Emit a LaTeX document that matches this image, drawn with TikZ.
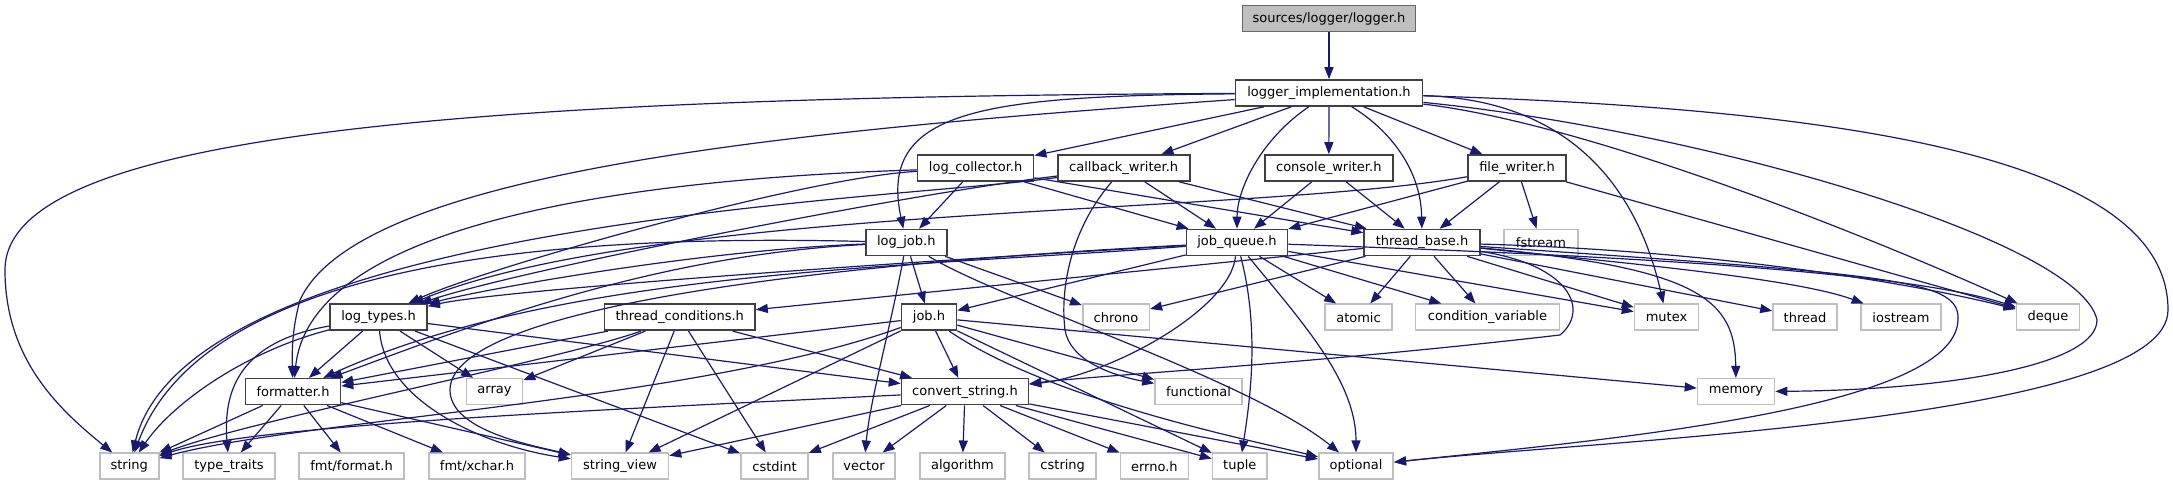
\documentclass[tikz,border=0pt]{standalone}
\usepackage{fontspec}
\setmainfont{DejaVu Sans}
\usetikzlibrary{arrows.meta}
\definecolor{dxblue}{HTML}{191970}
\definecolor{dxgray}{HTML}{BFBFBF}
\definecolor{dxdark}{HTML}{404040}
\definecolor{dxroot}{HTML}{666666}
\begin{document}
\begin{tikzpicture}[x=0.5pt,y=-0.5pt,
    every node/.style={font=\fontsize{6.5}{7.8}\selectfont, inner sep=0pt, minimum height=13pt},
    docbox/.style={draw=dxdark, fill=white, line width=0.8pt},
    extbox/.style={draw=dxgray, fill=white, line width=0.8pt},
    rootbox/.style={draw=dxroot, fill=dxgray, line width=0.8pt},
    dep/.style={draw=dxblue, line width=0.6pt, -{Triangle[length=6pt,width=4.5pt]}}]
    \useasboundingbox (0,0) rectangle (2173,485);

    % Cabeceras del proyecto
    \node[rootbox, minimum width=86.5pt] (logger) at (1329,18.5) {sources/logger/logger.h};
    \node[docbox, minimum width=93.5pt] (impl) at (1329,93) {logger\_implementation.h};
    \node[docbox, minimum width=58pt] (collector) at (975.6,168) {log\_collector.h};
    \node[docbox, minimum width=66pt] (callback) at (1123.7,168) {callback\_writer.h};
    \node[docbox, minimum width=64pt] (console) at (1328.8,168) {console\_writer.h};
    \node[docbox, minimum width=49.25pt] (filewr) at (1517,168) {file\_writer.h};
    \node[docbox, minimum width=40.5pt] (logjob) at (906.3,242.5) {log\_job.h};
    \node[docbox, minimum width=50.5pt] (jobqueue) at (1237,242.5) {job\_queue.h};
    \node[docbox, minimum width=58pt] (thbase) at (1422,242.5) {thread\_base.h};
    \node[docbox, minimum width=48.5pt] (logtypes) at (378.5,317.3) {log\_types.h};
    \node[docbox, minimum width=75.3pt] (thcond) at (679.7,317.3) {thread\_conditions.h};
    \node[docbox, minimum width=27.5pt] (job) at (929,317.3) {job.h};
    \node[docbox, minimum width=47.5pt] (formatter) at (293,391.7) {formatter.h};
    \node[docbox, minimum width=63.5pt] (convstr) at (965,391.7) {convert\_string.h};

    % Cabeceras externas
    \node[extbox, minimum width=36.75pt] (fstream) at (1541,242.5) {fstream};
    \node[extbox, minimum width=33.3pt] (chrono) at (1116,317.3) {chrono};
    \node[extbox, minimum width=33.75pt] (atomic) at (1358.5,317.3) {atomic};
    \node[extbox, minimum width=71.85pt] (condvar) at (1487.5,317.3) {condition\_variable};
    \node[extbox, minimum width=32pt] (mutex) at (1666.5,317.3) {mutex};
    \node[extbox, minimum width=32pt] (thread) at (1805,317.3) {thread};
    \node[extbox, minimum width=40pt] (iostream) at (1901,317.3) {iostream};
    \node[extbox, minimum width=31.5pt] (deque) at (2048,317.3) {deque};
    \node[extbox, minimum width=28pt] (array) at (494.5,391.7) {array};
    \node[extbox, minimum width=43.5pt] (functional) at (1198.5,391.7) {functional};
    \node[extbox, minimum width=38.5pt] (memory) at (1736,391.7) {memory};
    \node[extbox, minimum width=29.5pt] (string) at (129.2,466.3) {string};
    \node[extbox, minimum width=46pt] (typetraits) at (229,466.3) {type\_traits};
    \node[extbox, minimum width=52.5pt] (fmtformat) at (351.5,466.3) {fmt/format.h};
    \node[extbox, minimum width=48pt] (fmtxchar) at (477,466.3) {fmt/xchar.h};
    \node[extbox, minimum width=48.5pt] (strview) at (620,466.3) {string\_view};
    \node[extbox, minimum width=33.5pt] (cstdint) at (774.5,466.3) {cstdint};
    \node[extbox, minimum width=31pt] (vector) at (864,466.3) {vector};
    \node[extbox, minimum width=42.5pt] (algorithm) at (962.4,466.3) {algorithm};
    \node[extbox, minimum width=33.5pt] (cstring) at (1062.7,466.3) {cstring};
    \node[extbox, minimum width=34pt] (errno) at (1154.4,466.3) {errno.h};
    \node[extbox, minimum width=27.25pt] (tuple) at (1239.8,466.3) {tuple};
    \node[extbox, minimum width=37.25pt] (optional) at (1356,466.3) {optional};

    % Raiz
    \draw[dep] (logger) -- (impl);

    % logger_implementation.h
    \draw[dep] (impl) .. controls (450,97) and (5,135) .. (5,270) .. controls (5,360) and (60,410) .. (string);
    \draw[dep] (impl) .. controls (800,130) and (360,170) .. (300,300) .. controls (292,330) and (292,350) .. (formatter);
    \draw[dep] (impl) .. controls (980,96) and (878,110) .. (logjob);
    \draw[dep] (impl) -- (collector);
    \draw[dep] (impl) -- (callback);
    \draw[dep] (impl) .. controls (1260,140) and (1237,190) .. (jobqueue);
    \draw[dep] (impl) -- (console);
    \draw[dep] (impl) .. controls (1390,130) and (1421,170) .. (thbase);
    \draw[dep] (impl) -- (filewr);
    \draw[dep] (impl) .. controls (1580,100) and (1640,200) .. (mutex);
    \draw[dep] (impl) .. controls (1600,125) and (1900,250) .. (deque);
    \draw[dep] (impl) .. controls (1700,130) and (2080,240) .. (2097,320) .. controls (2097,365) and (1950,390) .. (memory);
    \draw[dep] (impl) .. controls (1900,110) and (2168,170) .. (2168,310) .. controls (2168,420) and (1600,440) .. (optional);

    % log_collector.h
    \draw[dep] (collector) .. controls (800,178) and (480,270) .. (logtypes);
    \draw[dep] (collector) .. controls (600,180) and (310,230) .. (formatter);
    \draw[dep] (collector) -- (logjob);
    \draw[dep] (collector) -- (jobqueue);
    \draw[dep] (collector) -- (thbase);

    % callback_writer.h
    \draw[dep] (callback) .. controls (900,195) and (520,270) .. (logtypes);
    \draw[dep] (callback) .. controls (900,200) and (190,220) .. (string);
    \draw[dep] (callback) -- (jobqueue);
    \draw[dep] (callback) -- (thbase);
    \draw[dep] (callback) .. controls (1070,230) and (1060,290) .. (1065,330) .. controls (1070,360) and (1110,375) .. (functional);

    % console_writer.h
    \draw[dep] (console) -- (jobqueue);
    \draw[dep] (console) -- (thbase);

    % file_writer.h
    \draw[dep] (filewr) .. controls (1250,215) and (650,205) .. (logtypes);
    \draw[dep] (filewr) -- (jobqueue);
    \draw[dep] (filewr) -- (thbase);
    \draw[dep] (filewr) -- (fstream);
    \draw[dep] (filewr) -- (deque);

    % log_job.h
    \draw[dep] (logjob) .. controls (700,250) and (480,290) .. (logtypes);
    \draw[dep] (logjob) .. controls (650,255) and (460,330) .. (formatter);
    \draw[dep] (logjob) .. controls (600,235) and (210,250) .. (string);
    \draw[dep] (logjob) -- (job);
    \draw[dep] (logjob) -- (chrono);
    \draw[dep] (logjob) .. controls (890,330) and (870,400) .. (vector);
    \draw[dep] (logjob) .. controls (1000,300) and (1250,380) .. (optional);

    % job_queue.h
    \draw[dep] (jobqueue) .. controls (900,262) and (500,290) .. (logtypes);
    \draw[dep] (jobqueue) .. controls (900,268) and (560,270) .. (formatter);
    \draw[dep] (jobqueue) .. controls (800,265) and (450,310) .. (450,390) .. controls (450,430) and (530,445) .. (strview);
    \draw[dep] (jobqueue) -- (job);
    \draw[dep] (jobqueue) .. controls (1230,310) and (1110,375) .. (convstr);
    \draw[dep] (jobqueue) -- (atomic);
    \draw[dep] (jobqueue) -- (condvar);
    \draw[dep] (jobqueue) -- (mutex);
    \draw[dep] (jobqueue) .. controls (1600,255) and (1900,270) .. (deque);
    \draw[dep] (jobqueue) .. controls (1260,330) and (1250,400) .. (tuple);
    \draw[dep] (jobqueue) .. controls (1300,320) and (1356,380) .. (optional);

    % thread_base.h
    \draw[dep] (thbase) -- (thcond);
    \draw[dep] (thbase) -- (chrono);
    \draw[dep] (thbase) -- (atomic);
    \draw[dep] (thbase) -- (condvar);
    \draw[dep] (thbase) -- (mutex);
    \draw[dep] (thbase) -- (thread);
    \draw[dep] (thbase) .. controls (1650,265) and (1800,280) .. (iostream);
    \draw[dep] (thbase) .. controls (1700,250) and (1900,280) .. (deque);
    \draw[dep] (thbase) .. controls (1700,268) and (1735,300) .. (memory);
    \draw[dep] (thbase) .. controls (1900,275) and (1960,280) .. (1958,320) .. controls (1955,410) and (1600,440) .. (optional);
    \draw[dep] (thbase) .. controls (1570,265) and (1590,310) .. (1560,335) .. controls (1300,365) and (1100,375) .. (convstr);

    % log_types.h
    \draw[dep] (logtypes) .. controls (250,350) and (175,400) .. (string);
    \draw[dep] (logtypes) .. controls (250,340) and (222,380) .. (typetraits);
    \draw[dep] (logtypes) -- (formatter);
    \draw[dep] (logtypes) -- (array);
    \draw[dep] (logtypes) .. controls (385,400) and (480,445) .. (strview);
    \draw[dep] (logtypes) -- (convstr);
    \draw[dep] (logtypes) -- (cstdint);

    % thread_conditions.h
    \draw[dep] (thcond) -- (formatter);
    \draw[dep] (thcond) -- (array);
    \draw[dep] (thcond) .. controls (560,360) and (250,420) .. (string);
    \draw[dep] (thcond) -- (strview);
    \draw[dep] (thcond) -- (cstdint);
    \draw[dep] (thcond) -- (convstr);

    % job.h
    \draw[dep] (job) -- (formatter);
    \draw[dep] (job) .. controls (700,400) and (300,420) .. (string);
    \draw[dep] (job) -- (strview);
    \draw[dep] (job) -- (convstr);
    \draw[dep] (job) -- (functional);
    \draw[dep] (job) -- (memory);
    \draw[dep] (job) -- (tuple);
    \draw[dep] (job) .. controls (1050,400) and (1250,440) .. (optional);

    % formatter.h
    \draw[dep] (formatter) -- (string);
    \draw[dep] (formatter) -- (typetraits);
    \draw[dep] (formatter) -- (fmtformat);
    \draw[dep] (formatter) -- (fmtxchar);
    \draw[dep] (formatter) -- (strview);

    % convert_string.h
    \draw[dep] (convstr) .. controls (600,410) and (250,425) .. (string);
    \draw[dep] (convstr) -- (strview);
    \draw[dep] (convstr) -- (cstdint);
    \draw[dep] (convstr) -- (vector);
    \draw[dep] (convstr) -- (algorithm);
    \draw[dep] (convstr) -- (cstring);
    \draw[dep] (convstr) -- (errno);
    \draw[dep] (convstr) -- (tuple);
    \draw[dep] (convstr) -- (optional);
\end{tikzpicture}
\end{document}
